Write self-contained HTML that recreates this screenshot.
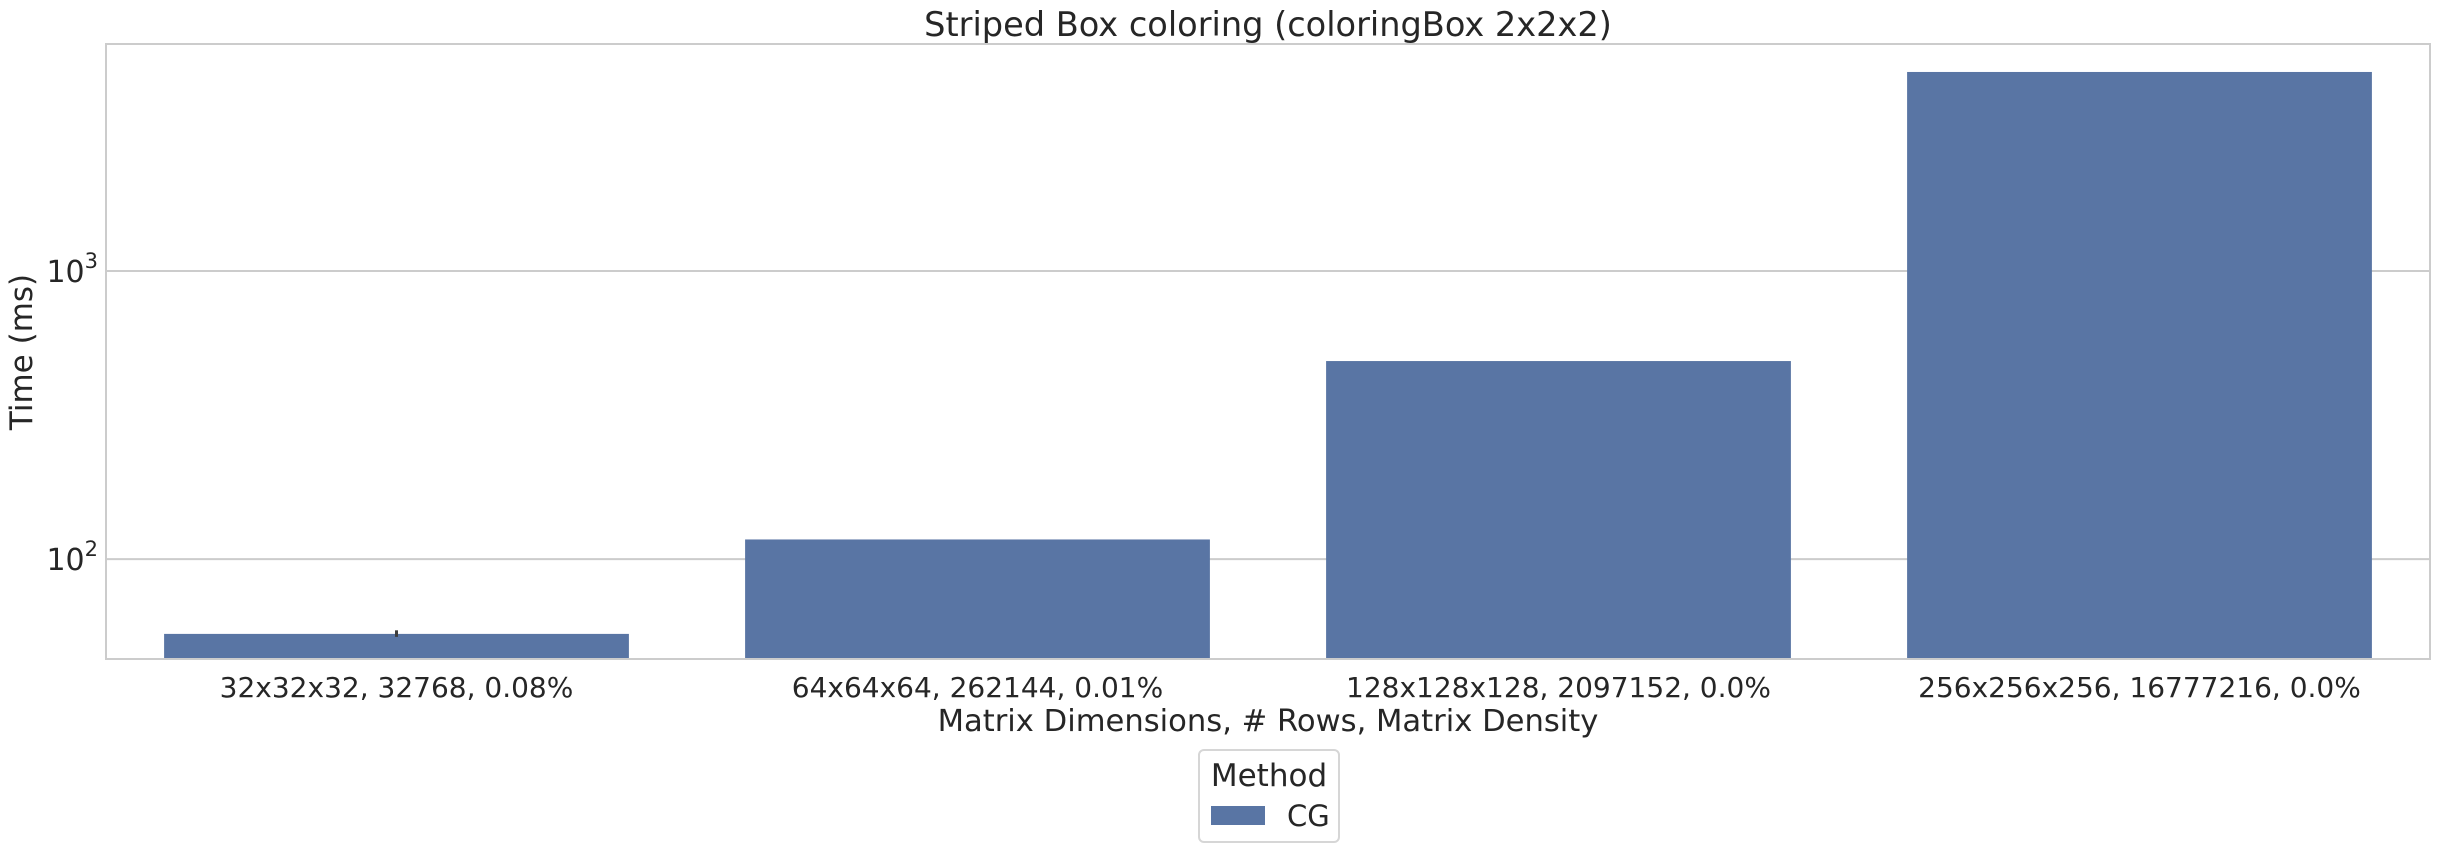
<!DOCTYPE html>
<html><head><meta charset="utf-8"><style>
body{margin:0;background:#fff;}
svg{display:block;font-family:"DejaVu Sans","Liberation Sans",sans-serif;fill:#262626;}
</style></head><body>
<svg id="chart" width="2441" height="853" viewBox="0 0 2441 853" xmlns="http://www.w3.org/2000/svg">
<rect x="0" y="0" width="2441" height="853" fill="#fff"/>
<text x="1268" y="36" font-size="33.6" text-anchor="middle">Striped Box coloring (coloringBox 2x2x2)</text>
<g id="grid"></g>
<g id="bars"></g>
<rect x="106" y="44" width="2324" height="615" fill="none" stroke="#cccccc" stroke-width="2"/>
<g id="yticks"></g>
<g id="xticks"></g>
<text x="1268" y="731" font-size="30.6" text-anchor="middle">Matrix Dimensions, # Rows, Matrix Density</text>
<text transform="translate(32,352) rotate(-90)" font-size="31" text-anchor="middle">Time (ms)</text>
<g>
<rect x="1199" y="750" width="140" height="92" rx="5" fill="#fff" stroke="#d6d6d6" stroke-width="2"/>
<text x="1269" y="786" font-size="31" text-anchor="middle">Method</text>
<rect x="1211" y="806" width="54" height="19" fill="#5975a4"/>
<text x="1287" y="826" font-size="29">CG</text>
</g>
</svg>
<script>
const categories = ["32x32x32, 32768, 0.08%","64x64x64, 262144, 0.01%","128x128x128, 2097152, 0.0%","256x256x256, 16777216, 0.0%"];
const cgTimes = [55, 117, 487, 4910];
const cgErrHigh = [56.6, 117, 487, 4910];
const yTickValues = [100, 1000];
const yTickExp = ["2", "3"];
const NS="http://www.w3.org/2000/svg";
const L=106,R=2430,T=44,B=659,yMin=Math.log10(45),yMax=Math.log10(6140);
function y(v){return B-(Math.log10(v)-yMin)/(yMax-yMin)*(B-T);}
const bw=(R-L)/categories.length;
function xc(i){return L+bw*(i+0.5);}
function mk(t,a,p){const e=document.createElementNS(NS,t);for(const k in a)e.setAttribute(k,a[k]);p.appendChild(e);return e;}
const grid=document.getElementById('grid'),yt=document.getElementById('yticks'),bars=document.getElementById('bars'),xt=document.getElementById('xticks');
yTickValues.forEach((v,i)=>{
  const g=mk('line',{x1:L,x2:R,y1:y(v),y2:y(v),stroke:'#cccccc','stroke-width':2},grid);
  
  
  const t=mk('text',{x:98,y:y(v)+11,'font-size':30,'text-anchor':'end'},yt);
  
  
  t.textContent='10';
  const s=mk('tspan',{dy:-14,'font-size':21},t);
  s.textContent=yTickExp[i];
});
categories.forEach((c,i)=>{
  const w=bw*0.8,top=y(cgTimes[i]);
  const r=mk('rect',{x:xc(i)-w/2,y:top,width:w,height:B-top,fill:'#5975a4'},bars);
  
  
  if(cgErrHigh[i]>cgTimes[i]){
    const e=mk('line',{x1:xc(i),x2:xc(i),y1:y(cgErrHigh[i]),y2:top+3,stroke:'#3d3d3d','stroke-width':3},bars);
    
    
  }
  const t=mk('text',{x:xc(i),y:697,'font-size':28,'text-anchor':'middle'},xt);
  
  
  t.textContent=c;
});
</script>
</body></html>
